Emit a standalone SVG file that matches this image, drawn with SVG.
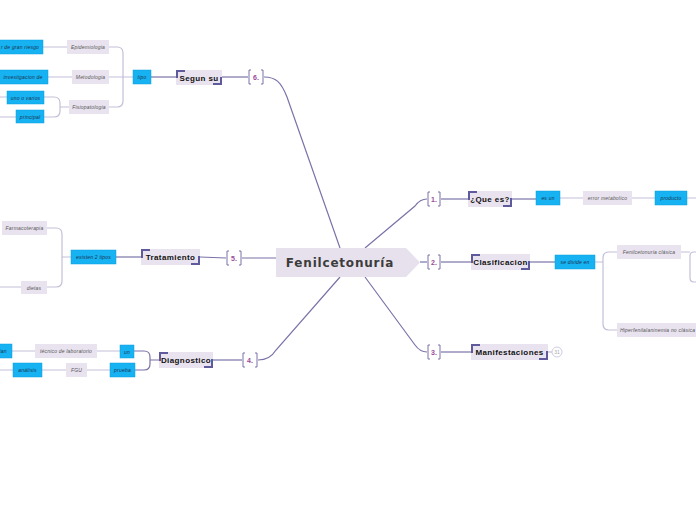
<svg xmlns="http://www.w3.org/2000/svg" width="696" height="520" viewBox="0 0 696 520">
<style>
.main{fill:none;stroke:#7a73a8;stroke-width:1.2}
.sub{fill:none;stroke:#c3bfd8;stroke-width:1.2}
.lb{fill:#e9e3ef}
.cy{fill:#16b2f2;stroke:#0e9ede;stroke-width:0.5}
.st{font-family:"Liberation Sans",Arial,sans-serif;font-style:italic;font-size:5px;fill:#555;text-anchor:middle;letter-spacing:0.2px}
.sc{font-family:"Liberation Sans",Arial,sans-serif;font-style:italic;font-size:5px;fill:#1a3350;text-anchor:middle;letter-spacing:0.2px}
.tp{font-family:"Liberation Sans",Arial,sans-serif;font-weight:bold;font-size:8px;fill:#111;text-anchor:middle;letter-spacing:0.4px}
.num{font-family:"Liberation Sans",Arial,sans-serif;font-weight:bold;font-size:7px;fill:#9a4a9a;text-anchor:middle}
.br{fill:none;stroke:#7a73a8;stroke-width:1}
.dec{fill:none;stroke:#5f5a9c;stroke-width:2}
</style>
<rect width="696" height="520" fill="#fff"/>
<g id="connectors">
<path class="main" d="M264 77 C276 77 281 82 287 97 L340 248"/>
<path class="main" d="M248 77 L222 77"/>
<path class="main" d="M176 77 L151 77"/>
<path class="sub" d="M133 77 L109 77 M109 47 L117 47 Q123 47 123 53 L123 101 Q123 107 117 107 L109 107"/>
<path class="sub" d="M67 47 L43 47 M72 77 L48 77 M69 107 L60 107 M44 97 L54 97 Q60 97 60 103 L60 111 Q60 117 54 117 L44 117 M7 97 L0 97 M16 117 L0 117"/>
<path class="main" d="M276 258 L242 258"/>
<path class="main" d="M226 258 L200 257"/>
<path class="main" d="M141 257 L116 257"/>
<path class="sub" d="M71 257 L62 257 M47 228 L56 228 Q62 228 62 234 L62 281 Q62 287 56 287 L47 287 M21 287 L0 287"/>
<path class="main" d="M340 277 L276 350 Q270 360 258 360"/>
<path class="main" d="M242 360 L213 360"/>
<path class="main" d="M159 360 L150 360 M134 351 L144 351 Q150 351 150 357 L150 364 Q150 370 144 370 L135 370"/>
<path class="sub" d="M120 351 L97 351 M35 351 L12 351 M110 370 L87 370 M66 370 L42 370 M13 370 L0 370"/>
<path class="main" d="M365 248 L415 206 Q420 199 427 199"/>
<path class="main" d="M441 199 L468 199"/>
<path class="main" d="M512 199 L536 199"/>
<path class="sub" d="M560 198 L583 198 M632 198 L655 198 M687 198 L696 198"/>
<path class="main" d="M420 262 L427 262"/>
<path class="main" d="M441 262 L471 262"/>
<path class="main" d="M530 262 L555 262"/>
<path class="sub" d="M595 262 L603 262 M617 252 L609 252 Q603 252 603 258 L603 324 Q603 330 609 330 L617 330 M681 252 L690 252 M696 252 L694 252 Q690 252 690 256 L690 278 Q690 282 694 282 L696 282"/>
<path class="main" d="M365 277 L415 345 Q420 352 427 352"/>
<path class="main" d="M441 352 L471 352"/>
<path class="sub" d="M548 352 L552 352"/>
</g>
<g id="center">
<path d="M276 248 L406 248 L420 262.5 L406 277 L276 277 Z" fill="#e7e1ed"/>
<text x="340" y="267" font-family="DejaVu Sans,sans-serif" font-weight="bold" font-size="12" fill="#3c3c3c" text-anchor="middle" letter-spacing="0.8">Fenilcetonuría</text>
</g>
<g id="n6">
<path class="br" d="M251 70 L249 70 L249 84 L251 84 M261 70 L263 70 L263 84 L261 84"/>
<text class="num" x="256" y="80">6.</text>
</g>
<g id="segun">
<rect class="lb" x="176" y="70" width="46" height="15"/>
<path class="dec" d="M177 78 L177 71 L185 71 M213 84 L221 84 L221 77"/>
<text class="tp" x="199" y="80.5">Segun su</text>
</g>
<g id="tipo"><rect class="cy" x="133" y="70" width="18" height="14"/><text class="sc" x="142" y="79">tipo</text></g>
<g id="epid"><rect class="lb" x="67" y="40" width="42" height="14"/><text class="st" x="88" y="49">Epidemiologia</text></g>
<g id="metod"><rect class="lb" x="72" y="70" width="37" height="14"/><text class="st" x="90.5" y="79">Metodologia</text></g>
<g id="fisio"><rect class="lb" x="69" y="100" width="40" height="14"/><text class="st" x="89" y="109">Fisiopatologia</text></g>
<g id="riesgo"><rect class="cy" x="-5" y="40" width="48" height="14"/><text class="sc" x="20" y="49">r de gran riesgo</text></g>
<g id="invest"><rect class="cy" x="-5" y="70" width="53" height="14"/><text class="sc" x="23" y="79">investigacion de</text></g>
<g id="uno"><rect class="cy" x="7" y="91" width="37" height="13"/><text class="sc" x="25.5" y="99.5">uno o varios</text></g>
<g id="principal"><rect class="cy" x="16" y="110" width="28" height="13"/><text class="sc" x="30" y="118.5">principal</text></g>
<g id="n5">
<path class="br" d="M229 251 L227 251 L227 265 L229 265 M239 251 L241 251 L241 265 L239 265"/>
<text class="num" x="234" y="261">5.</text>
</g>
<g id="trat">
<rect class="lb" x="141" y="249" width="59" height="16"/>
<path class="dec" d="M142 258 L142 250 L150 250 M191 264 L199 264 L199 256"/>
<text class="tp" x="170.5" y="260">Tratamiento</text>
</g>
<g id="existen"><rect class="cy" x="71" y="250" width="45" height="14"/><text class="sc" x="93.5" y="259">existen 2 tipos</text></g>
<g id="farm"><rect class="lb" x="2" y="221" width="45" height="14"/><text class="st" x="24.5" y="230">Farmacoterapia</text></g>
<g id="dietas"><rect class="lb" x="21" y="281" width="26" height="13"/><text class="st" x="34" y="289.5">dietas</text></g>
<g id="n4">
<path class="br" d="M245 353 L243 353 L243 367 L245 367 M255 353 L257 353 L257 367 L255 367"/>
<text class="num" x="250" y="363">4.</text>
</g>
<g id="diag">
<rect class="lb" x="159" y="352" width="54" height="16"/>
<path class="dec" d="M160 361 L160 353 L168 353 M204 367 L212 367 L212 359"/>
<text class="tp" x="186" y="363">Diagnostico</text>
</g>
<g id="un"><rect class="cy" x="120" y="345" width="14" height="13"/><text class="sc" x="127" y="353.5">un</text></g>
<g id="prueba"><rect class="cy" x="110" y="363" width="25" height="14"/><text class="sc" x="122.5" y="372">prueba</text></g>
<g id="tecnico"><rect class="lb" x="35" y="344" width="62" height="14"/><text class="st" x="66" y="353">técnico de laboratorio</text></g>
<g id="tan"><rect class="cy" x="-5" y="344" width="17" height="14"/><text class="sc" x="3" y="353">tan</text></g>
<g id="fgu"><rect class="lb" x="66" y="363" width="21" height="14"/><text class="st" x="76.5" y="372">FGU</text></g>
<g id="analisis"><rect class="cy" x="13" y="363" width="29" height="14"/><text class="sc" x="27.5" y="372">análisis</text></g>
<g id="n1">
<path class="br" d="M430 192 L428 192 L428 206 L430 206 M438 192 L440 192 L440 206 L438 206"/>
<text class="num" x="434" y="202">1.</text>
</g>
<g id="quees">
<rect class="lb" x="468" y="191" width="44" height="16"/>
<path class="dec" d="M469 200 L469 192 L477 192 M503 206 L511 206 L511 198"/>
<text class="tp" x="490" y="202">¿Que es?</text>
</g>
<g id="esun"><rect class="cy" x="536" y="191" width="24" height="14"/><text class="sc" x="548" y="200">es un</text></g>
<g id="error"><rect class="lb" x="583" y="191" width="49" height="14"/><text class="st" x="607.5" y="200">error metabolico</text></g>
<g id="producto"><rect class="cy" x="655" y="191" width="32" height="14"/><text class="sc" x="671" y="200">producto</text></g>
<g id="n2">
<path class="br" d="M430 255 L428 255 L428 269 L430 269 M438 255 L440 255 L440 269 L438 269"/>
<text class="num" x="434" y="265">2.</text>
</g>
<g id="clasif">
<rect class="lb" x="471" y="254" width="59" height="16"/>
<path class="dec" d="M472 263 L472 255 L480 255 M521 269 L529 269 L529 261"/>
<text class="tp" x="500.5" y="265">Clasificacion</text>
</g>
<g id="divide"><rect class="cy" x="555" y="255" width="40" height="14"/><text class="sc" x="575" y="264">se divide en</text></g>
<g id="fclasica"><rect class="lb" x="617" y="245" width="64" height="14"/><text class="st" x="649" y="254">Fenilcetonuria clásica</text></g>
<g id="hiper"><rect class="lb" x="617" y="323" width="90" height="14"/><text class="st" x="620" y="332" style="text-anchor:start">Hiperfenilalaninemia no clásica</text></g>
<g id="n3">
<path class="br" d="M430 345 L428 345 L428 359 L430 359 M438 345 L440 345 L440 359 L438 359"/>
<text class="num" x="434" y="355">3.</text>
</g>
<g id="manif">
<rect class="lb" x="471" y="344" width="77" height="16"/>
<path class="dec" d="M472 353 L472 345 L480 345 M539 359 L547 359 L547 351"/>
<text class="tp" x="509.5" y="355">Manifestaciones</text>
</g>
<g id="count"><circle cx="557" cy="352" r="5" fill="#fff" stroke="#c3bfd8" stroke-width="0.8"/><text x="557" y="354" font-family="Liberation Sans,sans-serif" font-size="5" fill="#aaa" text-anchor="middle">31</text></g>
</svg>
